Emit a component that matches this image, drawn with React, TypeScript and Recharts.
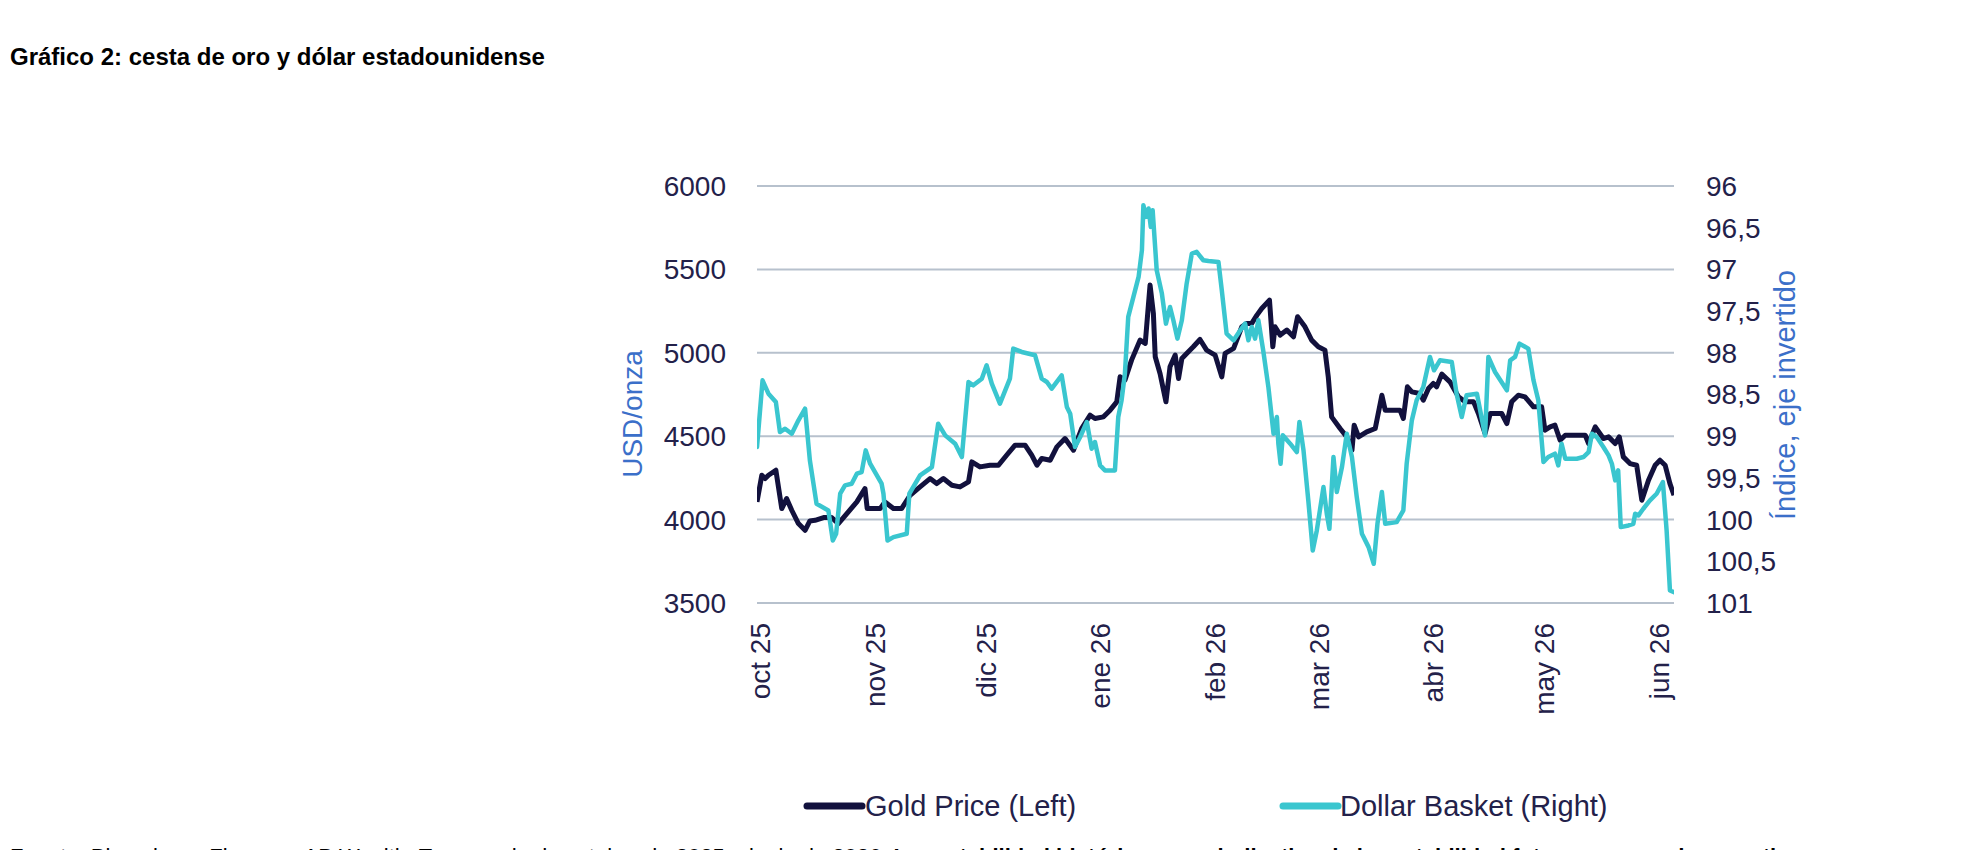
import { LineChart, Line, XAxis, YAxis, CartesianGrid } from "recharts";

// x values are calendar days counted from 1 Oct 2025
const goldDays = [
  -1, 0.3, 1.2, 2.1, 4.1, 5.7, 7, 8.4, 10.2, 12, 13.3, 14.7, 17, 19.2, 21, 23.3, 26, 28.2, 28.8, 32.3,
  33.6, 35.9, 38.1, 40.4, 43.1, 45.8, 47.6, 49.4, 51.7, 53.9, 56.2, 57.1, 59.3, 62, 64.3, 66.5, 68.8,
  71.5, 73.3, 74.7, 76, 78.3, 80.1, 82.3, 84.6, 86.8, 89.1, 90.4, 92.7, 94.5, 96.3, 97.2, 98.5, 100.3,
  102.6, 104, 105.3, 106.2, 106.7, 108, 109.6, 110.7, 112.1, 113, 113.9, 115.2, 117, 118.8, 120.6,
  122.9, 124.7, 125.6, 127.9, 130.1, 131.5, 132.8, 134.2, 135.5, 137.6, 138.5, 139.1, 140.5, 142.3,
  144.1, 145.2, 147.2, 149, 150.8, 152.6, 153.5, 154.4, 156.7, 158.5, 159.9, 160.5, 161.7, 163.9,
  166.2, 168, 168.9, 172.9, 173.8, 174.9, 176.1, 178.3, 179.2, 180.6, 181.9, 182.8, 184.2, 186.4,
  188.7, 190.5, 192.8, 194.1, 195.9, 197.3, 200.4, 201.8, 203.1, 204.9, 206.7, 209, 211.2, 212.1,
  213.5, 214.8, 216.2, 217.6, 220.7, 223, 223.9, 225.7, 227.9, 229.3, 231.1, 232.2, 233.3, 235.1,
  236.9, 238.3, 240.1, 241.9, 243.2, 244.6, 245.9, 247,
];
const goldPrice = [
  4106, 4266, 4246, 4266, 4296, 4066, 4126, 4056, 3976, 3936, 3992, 3996, 4012, 4012, 3976, 4036, 4106,
  4186, 4066, 4066, 4106, 4066, 4066, 4146, 4196, 4246, 4216, 4246, 4206, 4196, 4226, 4346, 4316, 4326,
  4326, 4386, 4446, 4446, 4386, 4326, 4366, 4356, 4436, 4486, 4416, 4546, 4626, 4606, 4616, 4656, 4706,
  4856, 4836, 4956, 5076, 5056, 5406, 5236, 4976, 4876, 4706, 4916, 4986, 4846, 4966, 4996, 5036, 5080,
  5016, 4986, 4856, 4996, 5026, 5156, 5176, 5176, 5226, 5266, 5316, 5036, 5156, 5106, 5136, 5096, 5216,
  5156, 5076, 5036, 5016, 4856, 4616, 4546, 4496, 4416, 4566, 4496, 4526, 4546, 4746, 4656, 4656, 4606,
  4796, 4766, 4756, 4716, 4786, 4816, 4796, 4872, 4826, 4736, 4706, 4706, 4636, 4516, 4636, 4636, 4576,
  4706, 4746, 4736, 4676, 4676, 4536, 4556, 4566, 4476, 4506, 4506, 4506, 4456, 4556, 4486, 4496, 4456,
  4496, 4376, 4336, 4326, 4116, 4236, 4326, 4356, 4326, 4216, 4146,
];

const dollarDays = [
  -1, 0.5, 2.1, 4.1, 5.2, 6.6, 8.4, 10.2, 12, 13.3, 15.1, 18.3, 19.5, 20.4, 21.5, 22.8, 24.6, 26, 27.3,
  28.4, 29.6, 32.7, 33.2, 34.3, 35.9, 39.5, 40.2, 43.1, 46.3, 48, 49.9, 52.6, 54.4, 56.2, 57.5, 59.8,
  61.1, 62.5, 64.7, 67.4, 68.3, 70.6, 74.2, 76, 77.4, 78.7, 81.4, 82.8, 83.7, 85, 86.4, 88.2, 89.5, 90.4,
  91.8, 93.1, 95.8, 96.7, 97.6, 98.5, 99.4, 100.8, 102.2, 103.1, 103.5, 104.2, 104.9, 105.5, 106, 107.1,
  108.5, 109.6, 110.7, 111.6, 112.7, 113.9, 115.2, 116.6, 117.9, 119.7, 121.1, 123.8, 124.7, 126, 127.9,
  129.7, 131, 131.9, 132.8, 133.7, 134.6, 135.9, 137.3, 138.7, 139.6, 140, 140.6, 141.2, 143.2, 145,
  145.7, 146.8, 148.1, 149.3, 150.4, 152.2, 153.1, 153.8, 154.9, 155.8, 157.2, 158.5, 159.9, 161.2,
  162.6, 164.4, 165.8, 166.8, 168, 168.9, 172, 173.8, 174.7, 176.1, 177.4, 179.2, 181, 182.1, 183.7,
  186.9, 188.2, 189.6, 190.9, 193.7, 195.9, 196.8, 198.6, 201.8, 202.7, 204, 205.2, 207.6, 209, 210.3,
  211.7, 213, 214.8, 215.7, 216.6, 217.6, 220.7, 222.5, 223.9, 224.8, 226.1, 227.9, 229.3, 230.2, 231.1,
  231.9, 232.6, 234.7, 236, 236.5, 237.4, 238.7, 240.5, 242.3, 244, 245, 245.9, 247,
];
const dollarIndex = [
  99.13, 98.33, 98.49, 98.59, 98.95, 98.91, 98.97, 98.81, 98.67, 99.29, 99.81, 99.89, 100.25, 100.17,
  99.69, 99.59, 99.57, 99.45, 99.43, 99.17, 99.33, 99.57, 99.69, 100.25, 100.21, 100.17, 99.69, 99.47,
  99.37, 98.85, 98.99, 99.09, 99.25, 98.35, 98.39, 98.31, 98.15, 98.37, 98.61, 98.31, 97.95, 97.99,
  98.03, 98.31, 98.35, 98.43, 98.27, 98.65, 98.73, 99.13, 99.01, 98.83, 99.15, 99.07, 99.35, 99.41,
  99.41, 98.77, 98.57, 98.25, 97.57, 97.33, 97.09, 96.77, 96.23, 96.37, 96.27, 96.49, 96.29, 97.01,
  97.29, 97.65, 97.45, 97.61, 97.83, 97.61, 97.17, 96.81, 96.79, 96.89, 96.9, 96.91, 97.25, 97.77,
  97.85, 97.73, 97.65, 97.85, 97.69, 97.83, 97.61, 97.97, 98.41, 98.97, 98.77, 99.09, 99.33, 98.99,
  99.09, 99.19, 98.83, 99.17, 99.77, 100.37, 100.13, 99.61, 99.93, 100.11, 99.25, 99.67, 99.37, 98.97,
  99.25, 99.73, 100.17, 100.33, 100.53, 100.05, 99.67, 100.05, 100.03, 99.89, 99.33, 98.81, 98.57,
  98.41, 98.05, 98.21, 98.09, 98.11, 98.49, 98.77, 98.51, 98.49, 98.99, 98.05, 98.23, 98.45, 98.09,
  98.05, 97.89, 97.95, 98.33, 98.57, 99.31, 99.25, 99.21, 99.35, 99.09, 99.27, 99.27, 99.25, 99.19,
  98.97, 99.01, 99.13, 99.23, 99.33, 99.53, 99.41, 100.09, 100.07, 100.05, 99.93, 99.95, 99.87, 99.77,
  99.69, 99.55, 100.13, 100.85, 100.87,
];

const monthTicks = [0, 31, 61, 92, 123, 151, 182, 212, 243];
const monthLabels = ["oct 25", "nov 25", "dic 25", "ene 26", "feb 26", "mar 26", "abr 26", "may 26", "jun 26"];
const goldTicks = [3500, 4000, 4500, 5000, 5500, 6000];
const dollarTicks = [96, 96.5, 97, 97.5, 98, 98.5, 99, 99.5, 100, 100.5, 101];

const goldData = goldDays.map((d, i) => ({ d, gold: goldPrice[i] }));
const dollarData = dollarDays.map((d, i) => ({ d, dollar: dollarIndex[i] }));

const FONT = "'Liberation Sans', Arial, sans-serif";
const INK = "#23214a";
const BLUE = "#3b6fc9";
const GOLD = "#12113d";
const CYAN = "#3ac6cf";

function MonthTick(props: any) {
  const { x, y, payload } = props;
  const i = monthTicks.indexOf(payload.value);
  return (
    <text
      x={x}
      y={y + 14}
      transform={`rotate(-90, ${x}, ${y + 14})`}
      textAnchor="end"
      dominantBaseline="central"
      fill={INK}
      fontSize={28}
      fontFamily={FONT}
    >
      {monthLabels[i]}
    </text>
  );
}

export default function App() {
  return (
    <div style={{ position: "absolute", left: 0, top: 0, width: 1974, height: 850, background: "#fff" }}>
      <LineChart
        width={1974}
        height={850}
        margin={{ top: 186, right: 0, bottom: 0, left: 0 }}
        style={{ position: "absolute", left: 0, top: 0 }}
      >
        <CartesianGrid yAxisId="left" vertical={false} stroke="#b7c1cd" strokeWidth={2} />
        <XAxis
          dataKey="d"
          type="number"
          domain={[-1, 247]}
          ticks={monthTicks}
          height={247}
          axisLine={false}
          tickLine={false}
          tickMargin={0}
          interval={0}
          tick={<MonthTick />}
          allowDataOverflow
        />
        <YAxis
          yAxisId="left"
          domain={[3500, 6000]}
          ticks={goldTicks}
          width={757}
          axisLine={false}
          tickLine={false}
          tickMargin={25}
          tick={{ fill: INK, fontSize: 28, fontFamily: FONT }}
          allowDataOverflow
        />
        <YAxis
          yAxisId="right"
          orientation="right"
          reversed
          domain={[96, 101]}
          ticks={dollarTicks}
          width={300}
          axisLine={false}
          tickLine={false}
          tickMargin={26}
          interval={0}
          tickFormatter={(v: number) => String(v).replace(".", ",")}
          tick={{ fill: INK, fontSize: 28, fontFamily: FONT, textAnchor: "start" }}
          allowDataOverflow
        />
        <Line
          yAxisId="left"
          data={goldData}
          dataKey="gold"
          type="linear"
          stroke={GOLD}
          strokeWidth={5}
          dot={false}
          strokeLinejoin="round"
          isAnimationActive={false}
        />
        <Line
          yAxisId="right"
          data={dollarData}
          dataKey="dollar"
          type="linear"
          stroke={CYAN}
          strokeWidth={4.5}
          dot={false}
          strokeLinejoin="round"
          strokeLinecap="round"
          isAnimationActive={false}
        />
      </LineChart>

      <svg
        width={1974}
        height={850}
        style={{ position: "absolute", left: 0, top: 0, pointerEvents: "none" }}
        fontFamily={FONT}
      >
        <text x={10} y={65} fontSize={24} fontWeight="bold" fill="#000">
          Gráfico 2: cesta de oro y dólar estadounidense
        </text>
        <text
          x={632}
          y={414}
          transform="rotate(-90, 632, 414)"
          textAnchor="middle"
          dominantBaseline="central"
          fontSize={28}
          fill={BLUE}
        >
          USD/onza
        </text>
        <text
          x={1785}
          y={395}
          transform="rotate(-90, 1785, 395)"
          textAnchor="middle"
          dominantBaseline="central"
          fontSize={29}
          fill={BLUE}
        >
          Índice, eje invertido
        </text>
        <line x1={807} y1={806} x2={862} y2={806} stroke={GOLD} strokeWidth={7} strokeLinecap="round" />
        <text x={865} y={806} dominantBaseline="central" fontSize={29} fill={INK}>
          Gold Price (Left)
        </text>
        <line x1={1283} y1={806} x2={1338} y2={806} stroke={CYAN} strokeWidth={7} strokeLinecap="round" />
        <text x={1340} y={806} dominantBaseline="central" fontSize={29} fill={INK}>
          Dollar Basket (Right)
        </text>
        <text x={10} y={864} fontSize={22} fill="#000">
          Fuente: Bloomberg, Finanzas AB Wealth, Temporada de octubre de 2025 a junio de 2026.{" "}
          <tspan fontWeight="bold">
            La rentabilidad histórica no es indicativa de la rentabilidad futura y no puede garantizarse.
          </tspan>
        </text>
      </svg>
    </div>
  );
}
